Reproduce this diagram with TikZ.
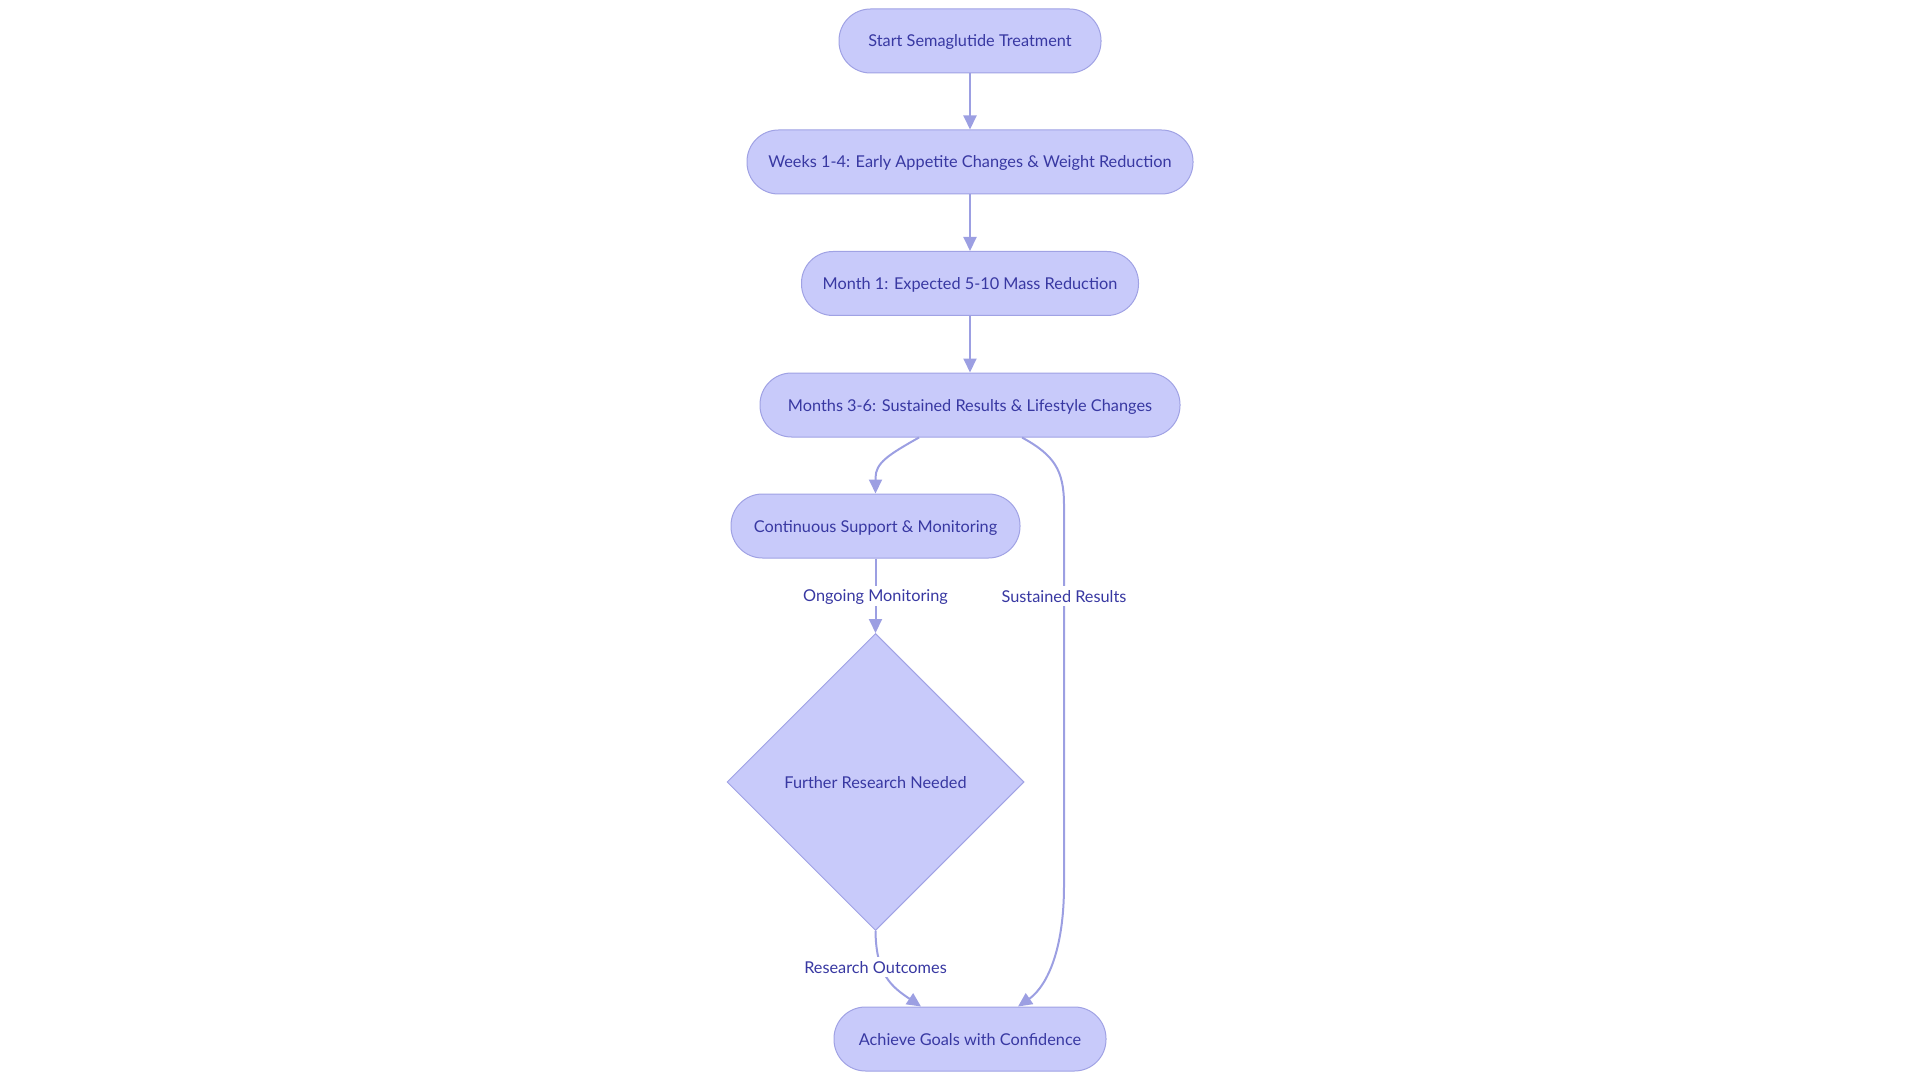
\documentclass[tikz,border=0pt]{standalone}
\usepackage{fontspec}
\setmainfont{Lato}
\usetikzlibrary{shapes.geometric,arrows.meta,calc}
\definecolor{nodefill}{RGB}{200,202,250}
\definecolor{nodeborder}{RGB}{160,162,228}
\definecolor{linkcol}{RGB}{156,159,226}
\definecolor{txtcol}{RGB}{56,56,162}
\tikzset{
  pill/.style={draw=nodeborder, fill=nodefill, line width=1pt, rounded corners=31.5pt,
    minimum height=64pt, inner sep=0pt, text=txtcol, font=\fontsize{16.3}{19}\selectfont,
    text height=14pt, text depth=2pt},
  decision/.style={draw=nodeborder, fill=nodefill, line width=1pt, diamond, aspect=1,
    minimum width=297pt, minimum height=297pt, inner sep=0pt, text=txtcol, font=\fontsize{16.3}{19}\selectfont,
    text height=14pt, text depth=2pt},
  link/.style={draw=linkcol, line width=2pt, -{Triangle[length=14pt,width=13pt]}},
  lbl/.style={fill=white, text=txtcol, inner sep=2pt, font=\fontsize{16.3}{19}\selectfont,
    text height=14pt, text depth=2pt}
}
\begin{document}
\begin{tikzpicture}[x=1pt,y=-1pt]
\useasboundingbox (0,0) rectangle (1920,1083);
\node[pill, minimum width=262pt] (start) at (970,41) {Start Semaglutide Treatment};
\node[pill, minimum width=446pt] (weeks) at (970,162) {Weeks 1-4: Early Appetite Changes \& Weight Reduction};
\node[pill, minimum width=337pt] (month) at (970,283.5) {Month 1: Expected 5-10 Mass Reduction};
\node[pill, minimum width=420pt] (sust) at (970,405) {Months 3-6: Sustained Results \& Lifestyle Changes};
\node[pill, minimum width=289pt] (cont) at (875.5,526) {Continuous Support \& Monitoring};
\node[decision] (res) at (875.5,782) {Further Research Needed};
\node[pill, minimum width=272pt] (goal) at (970,1039) {Achieve Goals with Confidence};

\draw[link] (start) -- (weeks);
\draw[link] (weeks) -- (month);
\draw[link] (month) -- (sust);
\draw[link] ([xshift=-51pt]sust.south) .. controls (888,455) and (875.5,463) .. (875.5,478) -- (cont.north);
\draw[link] (cont) -- node[lbl]{Ongoing Monitoring} (res);
\draw[link] (res.south) .. controls (876,975) and (892,987) .. ([xshift=-49pt]goal.north);
\node[lbl] (lro) at (875.5,967) {Research Outcomes};
\draw[link] ([xshift=52pt]sust.south) .. controls (1054,455) and (1064,470) .. (1064,505)
   -- node[lbl, pos=0.24]{Sustained Results} (1064,885)
   .. controls (1064,960) and (1042,990) .. ([xshift=48pt]goal.north);
\end{tikzpicture}
\end{document}
